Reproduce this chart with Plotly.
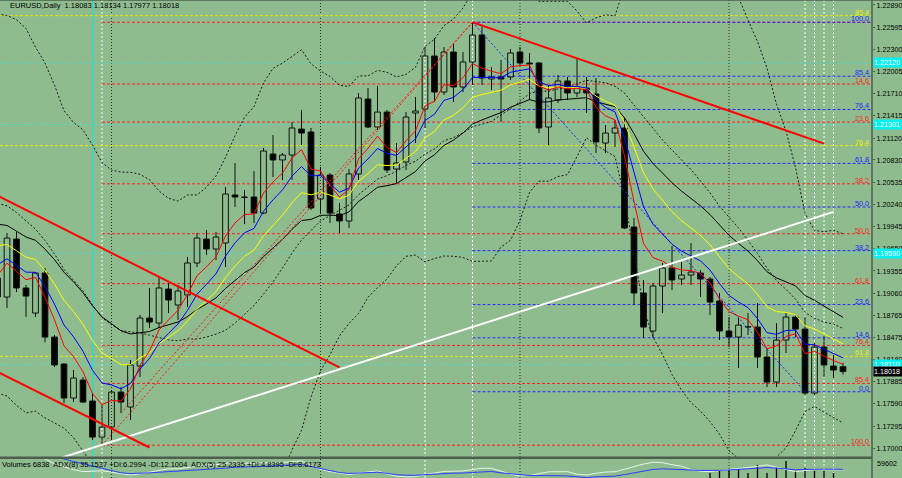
import numpy as np
import pandas as pd
import plotly.graph_objects as go

# ---------------- data ----------------
symbol_title = "EURUSD,Daily"
title_ohlc = ["1.18083", "1.18134", "1.17977", "1.18018"]
sub_title = "Volumes 6838  ADX(8) 35.1537 +DI:6.2994 -DI:12.1004  ADX(5) 25.2335 +DI:4.8395 -DI:8.6173"

# closes before the first visible bar (off-screen, estimated) - only used to seed the indicators
prior_closes = [1.2050, 1.2118, 1.2119, 1.2134, 1.2119, 1.2126, 1.2104, 1.2039,
                1.2093, 1.2119, 1.2157, 1.2150, 1.2170, 1.2175, 1.2075, 1.2050,
                1.2090, 1.2062, 1.1966, 1.1915, 1.1846, 1.1900, 1.1928, 1.1985,
                1.1952, 1.1930]

first_bar = -1
opens = [1.19262, 1.19009, 1.19779, 1.19129, 1.18796, 1.19328, 1.18477, 1.18119, 1.17667, 1.17906,
         1.17627, 1.17148, 1.17281, 1.17746, 1.17547, 1.18092, 1.18730, 1.18663, 1.19115, 1.18903,
         1.19036, 1.19461, 1.19779, 1.19647, 1.19727, 1.20365, 1.20338, 1.20338, 1.20125, 1.20909,
         1.20830, 1.20896, 1.21241, 1.21202, 1.20311, 1.20630, 1.20112, 1.20019, 1.20644, 1.21640,
         1.21268, 1.21467, 1.20710, 1.20803, 1.21454, 1.21507, 1.22212, 1.21733, 1.22265, 1.21800,
         1.22132, 1.22491, 1.21906, 1.21933, 1.21933, 1.22265, 1.22119, 1.22119, 1.21268, 1.21627,
         1.21880, 1.21720, 1.21787, 1.21707, 1.21055, 1.21188, 1.21255, 1.19939, 1.19062, 1.18557,
         1.19155, 1.19395, 1.19248, 1.19301, 1.19328, 1.19248, 1.18956, 1.18557, 1.18477, 1.18610,
         1.18610, 1.18212, 1.17879, 1.18437, 1.18743, 1.18583, 1.17733, 1.18344, 1.18092, 1.18083]
highs = [1.19368, 1.19859, 1.19872, 1.19169, 1.19341, 1.19395, 1.18504, 1.18132, 1.18039, 1.17946,
         1.17733, 1.17587, 1.17773, 1.17813, 1.18172, 1.18770, 1.19129, 1.19275, 1.19195, 1.19169,
         1.19541, 1.19859, 1.19899, 1.19872, 1.20471, 1.20790, 1.20431, 1.20684, 1.20989, 1.21162,
         1.20923, 1.21335, 1.21494, 1.21255, 1.20737, 1.20657, 1.20258, 1.20710, 1.21720, 1.21787,
         1.21813, 1.21494, 1.21055, 1.21467, 1.21667, 1.22331, 1.22451, 1.22331, 1.22385, 1.22265,
         1.22660, 1.22597, 1.22066, 1.22159, 1.22305, 1.22331, 1.22252, 1.22132, 1.21826, 1.21959,
         1.21933, 1.22185, 1.21933, 1.21919, 1.21295, 1.21361, 1.21388, 1.20059, 1.19235, 1.19195,
         1.19461, 1.19687, 1.19474, 1.19727, 1.19368, 1.19275, 1.19062, 1.18743, 1.18730, 1.18796,
         1.18929, 1.18331, 1.18663, 1.18796, 1.18770, 1.18743, 1.18397, 1.18491, 1.18238, 1.18134]
lows = [1.18863, 1.18863, 1.19075, 1.18743, 1.18743, 1.18410, 1.18079, 1.17600, 1.17613, 1.17600,
        1.17108, 1.17040, 1.17108, 1.17467, 1.17374, 1.17946, 1.18596, 1.18596, 1.18796, 1.18703,
        1.18876, 1.19408, 1.19567, 1.19501, 1.19408, 1.20205, 1.19979, 1.19992, 1.20112, 1.20604,
        1.20564, 1.20564, 1.21029, 1.20165, 1.20125, 1.19992, 1.19859, 1.19926, 1.20564, 1.21255,
        1.21228, 1.20657, 1.20524, 1.20697, 1.21055, 1.21255, 1.21600, 1.21693, 1.21600, 1.21733,
        1.21826, 1.21826, 1.21760, 1.21335, 1.21893, 1.22092, 1.21627, 1.21188, 1.21029, 1.21587,
        1.21627, 1.21667, 1.21454, 1.20923, 1.20923, 1.21003, 1.19912, 1.18903, 1.18464, 1.18464,
        1.18796, 1.19102, 1.19169, 1.19169, 1.19009, 1.18770, 1.18437, 1.18344, 1.18065, 1.18504,
        1.18065, 1.17813, 1.17813, 1.18265, 1.18477, 1.17706, 1.17706, 1.17946, 1.17933, 1.17977]
closes = [1.19009, 1.19793, 1.19129, 1.19022, 1.19328, 1.18477, 1.18106, 1.17667, 1.17933, 1.17613,
          1.17148, 1.17281, 1.17746, 1.17613, 1.18106, 1.18730, 1.18676, 1.19129, 1.18969, 1.19089,
          1.19461, 1.19793, 1.19647, 1.19806, 1.20378, 1.20338, 1.20332, 1.20125, 1.20949, 1.20830,
          1.20896, 1.21255, 1.21188, 1.20192, 1.20630, 1.20125, 1.20019, 1.20644, 1.21654, 1.21268,
          1.21467, 1.20697, 1.20790, 1.21401, 1.21481, 1.22212, 1.21733, 1.22265, 1.21800, 1.22132,
          1.22491, 1.21919, 1.21933, 1.21906, 1.22252, 1.22119, 1.22106, 1.21255, 1.21654, 1.21880,
          1.21720, 1.21800, 1.21720, 1.21069, 1.21188, 1.21255, 1.19926, 1.19062, 1.18610, 1.19155,
          1.19395, 1.19235, 1.19301, 1.19341, 1.19248, 1.18942, 1.18557, 1.18477, 1.18636, 1.18610,
          1.18212, 1.17879, 1.18437, 1.18743, 1.18583, 1.17733, 1.18344, 1.18106, 1.18039, 1.18018]

volume_bars = [74, 75, 76, 77, 78, 79, 80, 81, 82, 83, 84, 85, 86, 87, 88]
volume_values = [44900, 47840, 47840, 48820, 44900, 52740, 44900, 50780, 56660, 46860,
                 49800, 46860, 46860, 44900, 6838]
volume_axis_top = 59602

price_ticks = [1.22890, 1.22595, 1.22300, 1.22005, 1.21710, 1.21415, 1.21120, 1.20830,
               1.20535, 1.20240, 1.19945, 1.19650, 1.19355, 1.19060, 1.18765, 1.18475,
               1.18180, 1.17885, 1.17590, 1.17295, 1.17000]
price_tick_text = ["%.5f" % v for v in price_ticks]

cyan_levels = [1.22120, 1.21301, 1.19590, 1.18110]
last_price = 1.18018

fib_ratios = [0.0, 14.6, 23.6, 38.2, 50.0, 61.8, 76.4, 85.4, 100.0]
red_fib = {"start_bar": 10, "p0": 1.2266, "p100": 1.1704}      # 0 at the May high, 100 at the March low
blue_fib = {"start_bar": 49, "p0": 1.1775, "p100": 1.2266}
yellow_fib = {"p0": 1.0636, "p100": 1.2555, "shown": [61.8, 76.4, 85.4]}

# trend lines: (bar1, price1, bar2, price2)
red_trends = [(-1, 1.20355, 35, 1.18073), (-1, 1.18015, 15, 1.17009), (49, 1.2266, 86, 1.21048)]
white_trends = [(4, 1.16803, 87, 1.2014)]
red_dotted = [(10, 1.1704, 49, 1.2266), (12, 1.17467, 49, 1.2266)]
blue_dotted = [(49, 1.2266, 84, 1.1775)]

cyan_vlines = [9]
white_vlines = [10, 44, 49, 84, 85, 86, 87]
grid_vlines = [11, 33, 54, 76]

ema_periods = {"red": 5, "blue": 8, "yellow": 13, "black": 21}
bb_period, bb_dev = 20, 2.5

# ---------------- computation ----------------
n = len(closes)
bars = list(range(first_bar, first_bar + n))
s = pd.Series(prior_closes + closes)
npr = len(prior_closes)
emas = {col: s.ewm(span=p, adjust=False).mean().values[npr:] for col, p in ema_periods.items()}
mid = s.rolling(bb_period).mean().values[npr:]
sd = s.rolling(bb_period).std(ddof=0).values[npr:]
upper, lower = mid + bb_dev * sd, mid - bb_dev * sd

h, l, c = np.array(highs), np.array(lows), np.array(closes)


def adx(period):
    up = np.diff(h)
    dn = -np.diff(l)
    pdm = np.where((up > dn) & (up > 0), up, 0.0)
    mdm = np.where((dn > up) & (dn > 0), dn, 0.0)
    tr = np.maximum.reduce([h[1:] - l[1:], np.abs(h[1:] - c[:-1]), np.abs(l[1:] - c[:-1])])
    a = 1.0 / period
    atr = pd.Series(tr).ewm(alpha=a, adjust=False).mean()
    pdi = 100 * pd.Series(pdm).ewm(alpha=a, adjust=False).mean() / atr
    mdi = 100 * pd.Series(mdm).ewm(alpha=a, adjust=False).mean() / atr
    dx = 100 * (pdi - mdi).abs() / (pdi + mdi)
    return dx.ewm(alpha=a, adjust=False).mean().values


adx8, adx5 = adx(8), adx(5)

# ---------------- figure ----------------
W, H = 902, 478
PLOT_W = 872
BG = "#8FBC8F"
PX = 9.5
x_lo = -7 / PX
x_hi = (PLOT_W - 7) / PX
y_lo, y_hi = 1.16883, 1.22956
main_bottom = (H - 457) / H
sub_top = 20 / H
FONT = "Liberation Sans"
FS = 7.2

fig = go.Figure()

# candles
bull = [k for k in range(n) if closes[k] >= opens[k]]
bear = [k for k in range(n) if closes[k] < opens[k]]
wx, wy = [], []
for k in range(n):
    top, bot = max(opens[k], closes[k]), min(opens[k], closes[k])
    wx += [bars[k], bars[k], None, bars[k], bars[k], None]
    wy += [highs[k], top, None, bot, lows[k], None]
fig.add_trace(go.Scatter(x=wx, y=wy, mode="lines", line=dict(color="#101010", width=1),
                         hoverinfo="skip"))
for idx, fill in ((bull, "rgba(0,0,0,0)"), (bear, "#000000")):
    fig.add_trace(go.Bar(
        x=[bars[k] for k in idx],
        y=[max(abs(closes[k] - opens[k]), 0.00005) for k in idx],
        base=[min(opens[k], closes[k]) for k in idx],
        width=0.6, marker=dict(color=fill, line=dict(color="#101010", width=1)),
        hoverinfo="skip"))

# bollinger bands
for arr in (upper, mid, lower):
    fig.add_trace(go.Scatter(x=bars, y=arr, mode="lines",
                             line=dict(color="#1a1a1a", width=1, dash="2px,2px"), hoverinfo="skip"))
# moving averages
ema_colors = {"black": "#000000", "yellow": "#ffff00", "blue": "#0000ff", "red": "#ff0000"}
for col in ("black", "yellow", "blue", "red"):
    fig.add_trace(go.Scatter(x=bars, y=emas[col], mode="lines",
                             line=dict(color=ema_colors[col], width=1), hoverinfo="skip"))


def add_segments(segs, color, width, dash=None):
    xs, ys = [], []
    for b1, p1, b2, p2 in segs:
        xs += [b1, b2, None]
        ys += [p1, p2, None]
    fig.add_trace(go.Scatter(x=xs, y=ys, mode="lines",
                             line=dict(color=color, width=width, dash=dash), hoverinfo="skip"))


add_segments(red_dotted, "#ff1010", 1, "2px,2px")
add_segments(blue_dotted, "#2020ff", 1, "2px,2px")
add_segments(white_trends, "#ffffff", 2)
add_segments(red_trends, "#ff0000", 2)

# sub window: volumes + ADX
fig.add_trace(go.Bar(x=volume_bars, y=volume_values, width=0.14, marker=dict(color="#000000", line=dict(width=0)),
                     yaxis="y2", hoverinfo="skip"))
fig.add_trace(go.Scatter(x=bars[1:], y=adx5, mode="lines", line=dict(color="#e8f4e8", width=1),
                         yaxis="y3", hoverinfo="skip"))
fig.add_trace(go.Scatter(x=bars[1:], y=adx8, mode="lines", line=dict(color="#2a3cff", width=1),
                         yaxis="y3", hoverinfo="skip"))

shapes = []
annotations = []
FIBDASH = "3px,2px"


def hline(x0, price, color, dash):
    shapes.append(dict(type="line", xref="x", yref="y", x0=x0, x1=x_hi, y0=price, y1=price,
                       line=dict(color=color, width=1, dash=dash), layer="below"))


def fib_label(price, text, color):
    annotations.append(dict(xref="x", yref="y", x=x_hi - 0.1, y=price, text=text, showarrow=False,
                            xanchor="right", yanchor="bottom", yshift=-3,
                            font=dict(color=color, size=FS, family=FONT)))


for lv in cyan_levels:
    hline(x_lo, lv, "#3fe0e0", "2px,3px")
for r in yellow_fib["shown"]:
    p = yellow_fib["p0"] + r / 100 * (yellow_fib["p100"] - yellow_fib["p0"])
    hline(x_lo, p, "#e8e800", FIBDASH)
    fib_label(p, "%.1f" % r, "#f0f000")
for r in fib_ratios:
    p = red_fib["p0"] + r / 100 * (red_fib["p100"] - red_fib["p0"])
    hline(red_fib["start_bar"], p, "#ff2020", FIBDASH)
    if r > 0:
        fib_label(p, "%.1f" % r, "#ff2020")
for r in fib_ratios:
    p = blue_fib["p0"] + r / 100 * (blue_fib["p100"] - blue_fib["p0"])
    hline(blue_fib["start_bar"], p, "#2828ff", FIBDASH)
    fib_label(p, "%.1f" % r, "#2020ff")

for b in grid_vlines:
    shapes.append(dict(type="line", xref="x", yref="paper", x0=b, x1=b, y0=0, y1=1,
                       line=dict(color="#2a342a", width=1, dash="1px,2px"), layer="below"))
for b in white_vlines:
    shapes.append(dict(type="line", xref="x", yref="paper", x0=b, x1=b, y0=0, y1=1,
                       line=dict(color="#ffffff", width=1, dash="2px,2px"), layer="below"))
for b in cyan_vlines:
    shapes.append(dict(type="line", xref="x", yref="paper", x0=b, x1=b, y0=0, y1=1,
                       line=dict(color="#00e8e8", width=1), layer="below"))

# frame: separator, right axis line, top line
shapes.append(dict(type="rect", xref="paper", yref="paper", x0=0, x1=1, y0=(H - 459) / H, y1=(H - 456.5) / H,
                   line=dict(width=0), fillcolor="#4e5e4e", layer="above"))
shapes.append(dict(type="line", xref="paper", yref="paper", x0=1, x1=1, y0=0, y1=1,
                   line=dict(color="#4e5e4e", width=1.5), layer="above"))
shapes.append(dict(type="line", xref="paper", yref="paper", x0=0, x1=W / PLOT_W, y0=1, y1=1,
                   line=dict(color="#4e5e4e", width=1.5), layer="above"))

# price labels on the axis
for lv in cyan_levels:
    annotations.append(dict(xref="paper", yref="y", x=1, y=lv, xanchor="left", yanchor="middle", xshift=1,
                            text="%.5f" % lv, showarrow=False, bgcolor="#00f0f0", width=29, height=9,
                            align="left", borderpad=0, font=dict(color="#ffffff", size=FS, family=FONT)))
annotations.append(dict(xref="paper", yref="y", x=1, y=last_price, xanchor="left", yanchor="middle", xshift=1,
                        text="%.5f" % last_price, showarrow=False, bgcolor="#000000", width=29, height=9,
                        align="left", borderpad=0, font=dict(color="#ffffff", size=FS, family=FONT)))
annotations.append(dict(xref="paper", yref="paper", x=1, y=(H - 463) / H, xanchor="left", yanchor="middle",
                        xshift=3, text=str(volume_axis_top), showarrow=False,
                        font=dict(color="#000000", size=FS, family=FONT)))
annotations.append(dict(xref="paper", yref="paper", x=8 / PLOT_W, y=(H - 5) / H, xanchor="left", yanchor="middle",
                        text=symbol_title + "  " + " ".join(title_ohlc), showarrow=False,
                        font=dict(color="#000000", size=7.5, family=FONT)))
annotations.append(dict(xref="paper", yref="paper", x=0, y=(H - 464) / H, xanchor="left", yanchor="middle",
                        text=sub_title, showarrow=False,
                        font=dict(color="#000000", size=7.5, family=FONT)))

fig.update_layout(
    width=W, height=H, margin=dict(l=0, r=W - PLOT_W, t=0, b=0, pad=0),
    paper_bgcolor=BG, plot_bgcolor=BG, showlegend=False, barmode="overlay",
    shapes=shapes, annotations=annotations,
    font=dict(family=FONT, size=FS, color="#000000"),
    xaxis=dict(range=[x_lo, x_hi], visible=False, showgrid=False, zeroline=False, fixedrange=True),
    yaxis=dict(domain=[main_bottom, 1], range=[y_lo, y_hi], side="right", showgrid=False, zeroline=False,
               tickmode="array", tickvals=price_ticks, ticktext=price_tick_text, ticks="outside",
               ticklen=2, tickcolor="#4e5e4e", tickfont=dict(size=FS, color="#000000"), showline=False,
               automargin=False),
    yaxis2=dict(domain=[0, sub_top], range=[40000, volume_axis_top], visible=False, showgrid=False),
    yaxis3=dict(domain=[0, sub_top], overlaying="y2", range=[25, 80], visible=False, showgrid=False),
)

fig.write_html("out.html", config={"displayModeBar": False, "staticPlot": True},
               post_script="document.body.style.margin='0px';document.body.style.overflow='hidden';")
